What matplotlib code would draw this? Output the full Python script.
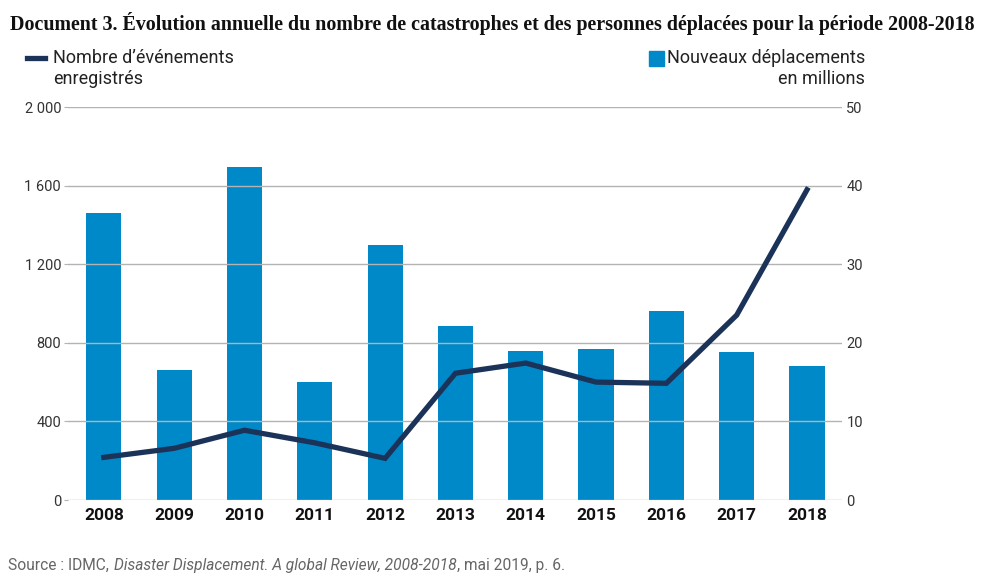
import matplotlib.pyplot as plt
import numpy as np

years = ['2008', '2009', '2010', '2011', '2012', '2013', '2014', '2015', '2016', '2017', '2018']
# nouveaux déplacements (millions) - axe de droite
deplacements = [36.5, 16.6, 42.4, 15.0, 32.4, 22.1, 19.0, 19.2, 24.1, 18.8, 17.1]
# nombre d'événements enregistrés - axe de gauche
evenements = [217, 263, 355, 291, 212, 645, 697, 600, 594, 941, 1579]

left_ticks = [0, 400, 800, 1200, 1600, 2000]
left_labels = ['0', '400', '800', '1 200', '1 600', '2 000']
right_ticks = [0, 10, 20, 30, 40, 50]

bar_col = '#0089C9'
line_col = '#1B3358'
grid_col = '#b3b3b3'

plt.rcParams['font.family'] = ['Roboto', 'DejaVu Sans']

fig = plt.figure(figsize=(9.85, 5.81), dpi=100)
ax = fig.add_axes([0.069, 0.1394, 0.786, 0.6764])
ax2 = ax.twinx()

x = np.arange(len(years))
ax2.bar(x, deplacements, width=0.5, color=bar_col, zorder=2)
ax.plot(x, evenements, color=line_col, lw=3.8, solid_joinstyle='miter', zorder=3)

ax.set_zorder(ax2.get_zorder() + 1)
ax.patch.set_visible(False)

ax.set_xlim(-0.51, 10.5)
ax.set_ylim(0, 2000)
ax2.set_ylim(0, 50)

ax.set_yticks(left_ticks)
ax.set_yticklabels(left_labels)
ax2.set_yticks(right_ticks)
ax.set_xticks(x)
ax.set_xticklabels(years, fontweight='bold', fontsize=12.5, color='#111111')

for a in (ax, ax2):
    for s in a.spines.values():
        s.set_visible(False)
ax.tick_params(axis='y', length=3, color=grid_col, labelsize=10.5, labelcolor='#333333', pad=2)
ax2.tick_params(axis='y', length=0, labelsize=10.5, labelcolor='#333333', pad=3)
ax.tick_params(axis='x', length=0, pad=6)

for t in left_ticks:
    ax.axhline(t, color=grid_col, lw=1, zorder=0)

r = fig.canvas.get_renderer()
W = fig.bbox.width

# titre, ajusté à la largeur
title = fig.text(0.010, 0.960, "Document 3. Évolution annuelle du nombre de catastrophes et des personnes déplacées pour la période 2008-2018",
                 fontsize=15, fontweight='bold', family=['Liberation Serif', 'DejaVu Serif'],
                 color='#111111', va='center')
tw = title.get_window_extent(r).width
title.set_fontsize(15 * (968 / tw))

# légendes
fig.add_artist(plt.Line2D([0.027, 0.046], [0.9, 0.9], color=line_col, lw=3.8))
fig.text(0.054, 0.9, "Nombre d’événements", fontsize=13, color='#222222', va='center')
fig.text(0.054, 0.864, "enregistrés", fontsize=13, color='#222222', va='center')
leg2 = fig.text(0.878, 0.9, "Nouveaux déplacements", fontsize=13, color='#222222', va='center', ha='right')
fig.text(0.878, 0.864, "en millions", fontsize=13, color='#222222', va='center', ha='right')
x0 = leg2.get_window_extent(r).x0 / W
fig.add_artist(plt.Rectangle((x0 - 0.018, 0.887), 0.015, 0.026, color=bar_col, transform=fig.transFigure))

# source
xs = 0.008
for txt, st in [("Source : IDMC, ", 'normal'),
                ("Disaster Displacement. A global Review, 2008-2018", 'italic'),
                (", mai 2019, p. 6.", 'normal')]:
    t = fig.text(xs, 0.027, txt, fontsize=11.2, color='#666666', va='center', style=st)
    xs = t.get_window_extent(r).x1 / W + 0.001

fig.savefig('out.png', dpi=100)
